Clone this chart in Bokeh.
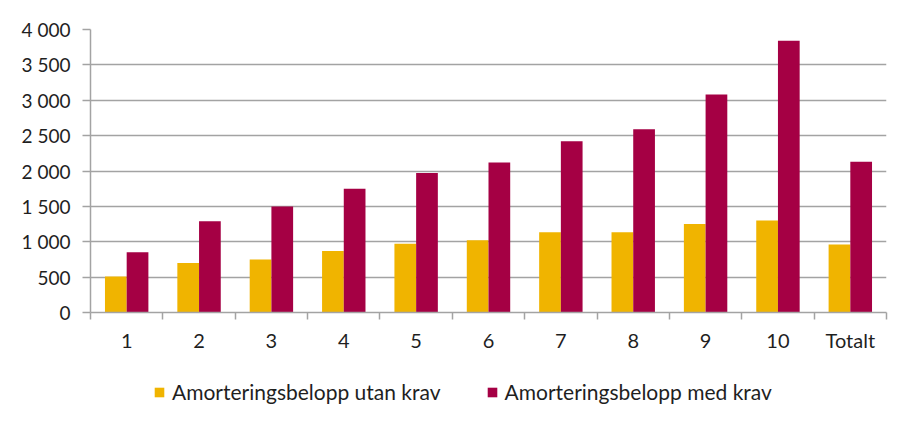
from bokeh.plotting import figure
from bokeh.layouts import column
from bokeh.models import (ColumnDataSource, Range1d, LinearAxis, FixedTicker,
                          Legend, LegendItem)
from bokeh.transform import dodge
from bokeh.embed import file_html
from bokeh.resources import INLINE

categories = ["1", "2", "3", "4", "5", "6", "7", "8", "9", "10", "Totalt"]
utan_krav = [510, 700, 750, 870, 970, 1020, 1135, 1135, 1250, 1300, 960]
med_krav = [850, 1290, 1500, 1750, 1970, 2120, 2420, 2590, 3080, 3840, 2130]
y_ticks = [0, 500, 1000, 1500, 2000, 2500, 3000, 3500, 4000]
y_labels = ["0", "500", "1 000", "1 500", "2 000", "2 500", "3 000", "3 500", "4 000"]
series_names = ["Amorteringsbelopp utan krav", "Amorteringsbelopp med krav"]

YELLOW = "#F0B400"
RED = "#A50044"
GRID = "#A3A3A3"
TEXT = "#1f1f1f"
FONT = "Lato"

n = len(categories)
centers = [i + 0.5 for i in range(n)]
bounds = list(range(n + 1))
src = ColumnDataSource(dict(x=centers, utan=utan_krav, med=med_krav))

p = figure(frame_width=796, frame_height=283, output_backend="svg", toolbar_location=None,
           x_range=Range1d(0, n), y_range=Range1d(0, 4000),
           x_axis_location=None, y_axis_location=None,
           min_border_left=90, min_border_right=28, min_border_top=29,
           min_border_bottom=60)
p.outline_line_color = None
p.background_fill_color = "white"
p.border_fill_color = "white"

r1 = p.vbar(x=dodge("x", -0.15), top="utan", width=0.3, source=src,
            fill_color=YELLOW, line_color=None)
r2 = p.vbar(x=dodge("x", 0.15), top="med", width=0.3, source=src,
            fill_color=RED, line_color=None)

# y axis
yax = LinearAxis(ticker=FixedTicker(ticks=y_ticks),
                 major_label_overrides={t: l for t, l in zip(y_ticks, y_labels)})
yax.axis_line_color = GRID
yax.axis_line_width = 1.5
yax.major_tick_line_color = GRID
yax.major_tick_line_width = 1.5
yax.major_tick_out = 8
yax.major_tick_in = 0
yax.minor_tick_line_color = None
yax.major_label_text_font = FONT
yax.major_label_text_font_size = "19px"
yax.major_label_text_color = TEXT
yax.major_label_standoff = 12
p.add_layout(yax, "left")

# x axis: tick marks at category boundaries (no labels)
xtick_ax = LinearAxis(ticker=FixedTicker(ticks=bounds),
                      major_label_overrides={b: "" for b in bounds})
xtick_ax.axis_line_color = GRID
xtick_ax.axis_line_width = 1.5
xtick_ax.major_tick_line_color = GRID
xtick_ax.major_tick_line_width = 1.5
xtick_ax.major_tick_out = 7
xtick_ax.major_tick_in = 0
xtick_ax.minor_tick_line_color = None
xtick_ax.major_label_standoff = 0
p.add_layout(xtick_ax, "below")

# x axis: category labels at centers
xlab_ax = LinearAxis(ticker=FixedTicker(ticks=centers),
                     major_label_overrides={c: l for c, l in zip(centers, categories)})
xlab_ax.axis_line_color = None
xlab_ax.major_tick_line_color = None
xlab_ax.minor_tick_line_color = None
xlab_ax.major_label_text_font = FONT
xlab_ax.major_label_text_font_size = "20px"
xlab_ax.major_label_text_color = TEXT
xlab_ax.major_label_standoff = 2
p.add_layout(xlab_ax, "below")

p.xgrid.visible = False
p.ygrid.ticker = FixedTicker(ticks=y_ticks)
p.ygrid.grid_line_color = GRID
p.ygrid.grid_line_width = 1.5

# legend strip below the chart; its bars lie fully outside its ranges, so only
# the legend swatches show
pl = figure(frame_width=914, frame_height=56, output_backend="svg", toolbar_location=None,
            x_range=Range1d(-100, -99), y_range=Range1d(-20000, -19000),
            x_axis_location=None, y_axis_location=None,
            min_border_left=0, min_border_right=0, min_border_top=0, min_border_bottom=0)
pl.outline_line_color = None
pl.grid.visible = False
lr1 = pl.vbar(x="x", top="utan", width=0.3, source=src,
              fill_color=YELLOW, line_color=None)
lr2 = pl.vbar(x="x", top="med", width=0.3, source=src,
              fill_color=RED, line_color=None)

legend = Legend(items=[LegendItem(label=series_names[0], renderers=[lr1]),
                       LegendItem(label=series_names[1], renderers=[lr2])],
                orientation="horizontal", location=(153, 24))
legend.border_line_color = None
legend.background_fill_alpha = 0
legend.glyph_width = 12
legend.glyph_height = 12
legend.label_text_font = FONT
legend.label_text_font_size = "21px"
legend.label_text_color = TEXT
legend.label_standoff = 7
legend.spacing = 45
legend.padding = 0
legend.margin = 0
pl.add_layout(legend, "center")

layout = column(p, pl, spacing=0)
open("out.html", "w").write(file_html(layout, INLINE))
